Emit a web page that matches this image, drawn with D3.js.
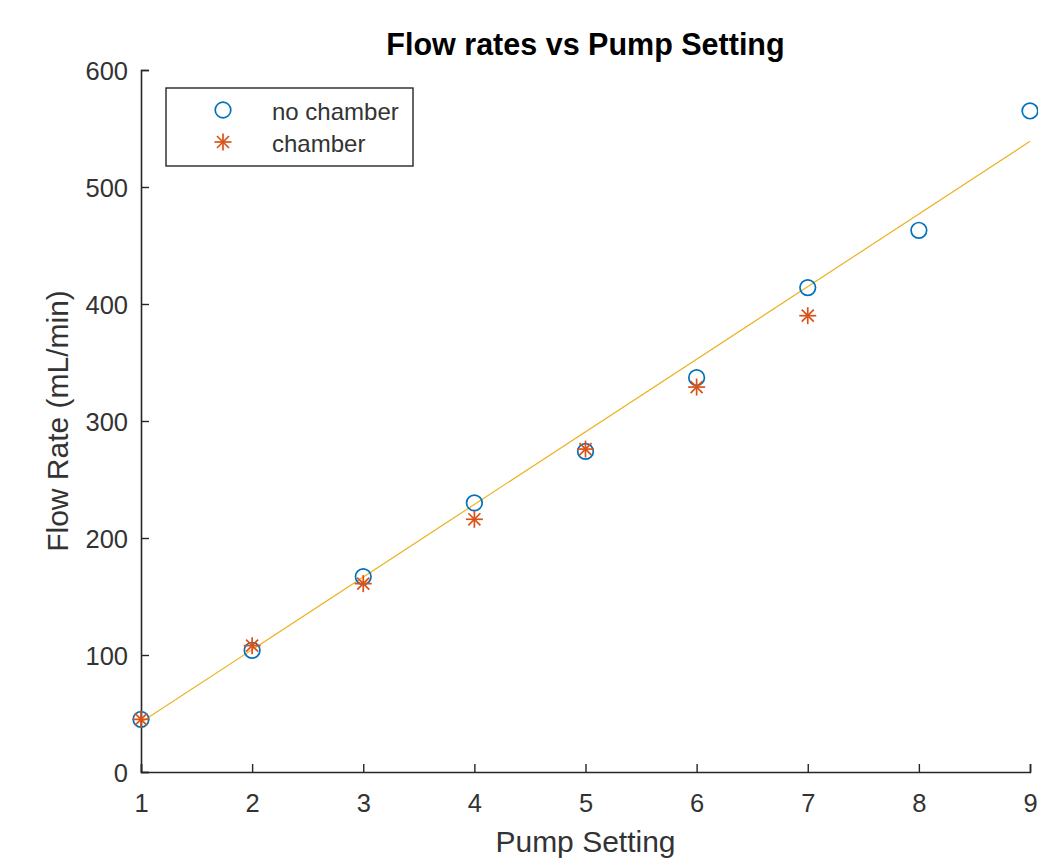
<!DOCTYPE html>
<html><head><meta charset="utf-8">
<script src="https://cdn.jsdelivr.net/npm/d3@7"></script>
<style>body{margin:0;background:#fff;} text{font-family:"Liberation Sans",Arial,Helvetica,sans-serif;}</style>
</head><body>
<svg id="c" width="1038" height="859"></svg>
<script>
const pumpSettings = [1,2,3,4,5,6,7,8,9];
const noChamber = [45,104,167,230,274,337,414,463,565];
const chamberSettings = [1,2,3,4,5,6,7];
const chamber = [45,108,161,216,276,329,390];
const fitX = [1,9];
const fitY = [42.5,539];
const xTicks = [1,2,3,4,5,6,7,8,9];
const yTicks = [0,100,200,300,400,500,600];
const titleText = "Flow rates vs Pump Setting";
const xLabel = "Pump Setting";
const yLabel = "Flow Rate (mL/min)";
const legendLabels = ["no chamber","chamber"];

const svg = d3.select("#c");
const L=141, R=1030, T=70, B=772;
const x = d3.scaleLinear().domain([1,9]).range([L,R]);
const y = d3.scaleLinear().domain([0,600]).range([B,T]);
const axisColor = "#262626";
const textColor = "#333333";

// fit line
svg.append("path")
  .datum(fitX.map((d,i)=>[d,fitY[i]]))
  .attr("d", d3.line().x(d=>x(d[0])).y(d=>y(d[1])))
  .attr("fill","none").attr("stroke","#EDB120").attr("stroke-width",1.2);

// axes
const xAxis = svg.append("g").attr("transform",`translate(0,${B})`)
  .call(d3.axisBottom(x).tickValues(xTicks).tickSize(-8).tickFormat(d3.format("d")));
const yAxis = svg.append("g").attr("transform",`translate(${L},0)`)
  .call(d3.axisLeft(y).tickValues(yTicks).tickSize(-8).tickPadding(13).tickFormat(d3.format("d")));
[xAxis,yAxis].forEach(g=>{
  g.select(".domain").attr("stroke",axisColor).attr("stroke-width",1.6);
  g.selectAll(".tick line").attr("stroke",axisColor).attr("stroke-width",1.4);
  g.selectAll(".tick text").attr("fill",textColor).style("font-size","25.5px");
});
yAxis.selectAll(".tick text").attr("dy","0.37em");
xAxis.selectAll(".tick text").attr("y",40).attr("dy","0");

// markers
const star = (g, cx, cy, r) => {
  const a = [0, Math.PI/4, Math.PI/2, 3*Math.PI/4];
  a.forEach(t=>{
    g.append("line").attr("x1",cx-r*Math.cos(t)).attr("y1",cy-r*Math.sin(t))
      .attr("x2",cx+r*Math.cos(t)).attr("y2",cy+r*Math.sin(t))
      .attr("stroke","#D95319").attr("stroke-width",1.7);
  });
};
svg.append("g").selectAll("circle").data(pumpSettings).join("circle")
  .attr("cx",d=>x(d)).attr("cy",(d,i)=>y(noChamber[i])).attr("r",7.8)
  .attr("fill","none").attr("stroke","#0072BD").attr("stroke-width",1.7);
const sg = svg.append("g");
chamberSettings.forEach((d,i)=>star(sg, x(d), y(chamber[i]), 8.5));

// title and labels
svg.append("text").attr("x",(L+R)/2).attr("y",55).attr("text-anchor","middle")
  .style("font-size","30.5px").style("font-weight","bold").attr("fill","#000").text(titleText);
svg.append("text").attr("x",(L+R)/2).attr("y",852).attr("text-anchor","middle")
  .style("font-size","30px").attr("fill",textColor).text(xLabel);
svg.append("text").attr("transform",`translate(68,${(T+B)/2}) rotate(-90)`).attr("text-anchor","middle")
  .style("font-size","30px").attr("fill",textColor).text(yLabel);

// legend
const lg = svg.append("g");
lg.append("rect").attr("x",166).attr("y",88).attr("width",247).attr("height",78)
  .attr("fill","#fff").attr("stroke","#262626").attr("stroke-width",1.4);
lg.append("circle").attr("cx",223).attr("cy",110).attr("r",7.8)
  .attr("fill","none").attr("stroke","#0072BD").attr("stroke-width",1.7);
star(lg,223,142,8.5);
legendLabels.forEach((t,i)=>{
  lg.append("text").attr("x",272).attr("y",120+i*32)
    .style("font-size","24px").attr("fill",textColor).text(t);
});
</script>
</body></html>
